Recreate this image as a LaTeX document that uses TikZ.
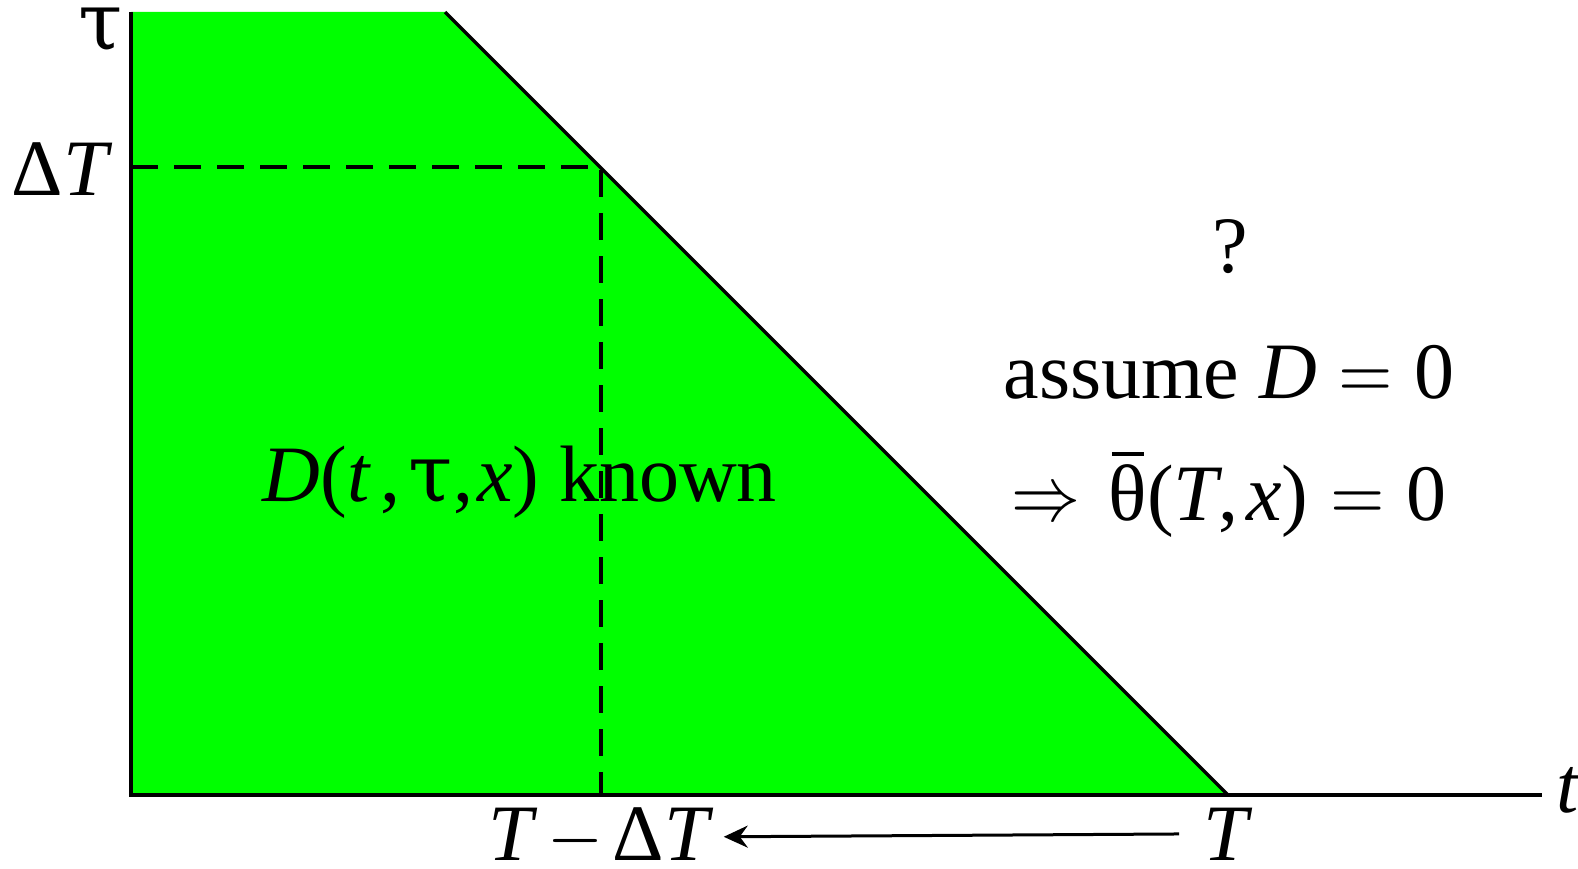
\documentclass[tikz,border=0pt]{standalone}
\usepackage{fontspec}
\setmainfont{Liberation Serif}
\newfontfamily\grk{DejaVu Serif}
\usetikzlibrary{arrows.meta}
\newcommand{\barth}{\setbox0\hbox{θ}\rlap{\hbox to\wd0{\hss\raisebox{0.8em}{\rule{0.85\wd0}{0.05em}}\hss}}\box0}
\newcommand{\mtau}{{\grk τ}}
\newcommand{\meq}{\scalebox{7}[7.8]{\normalsize$=$}}
\newcommand{\mminus}{\scalebox{7.2}[7.8]{\normalsize$-$}}
\newcommand{\mimpl}{\scalebox{6.9}[7.8]{\normalsize$\Rightarrow$}}
\begin{document}
\begin{tikzpicture}[x=1pt,y=-1pt,
  lbl/.style={inner sep=0pt, anchor=base, font=\fontsize{80}{92}\selectfont},
  axis/.style={line width=3.5pt},
  guide/.style={line width=3.5pt, dash pattern=on 27pt off 16pt},
  arr/.style={line width=3pt, -{Stealth[length=24pt,width=22pt,inset=8pt]}}]
\useasboundingbox (0,0) rectangle (1578,869);
\coordinate (O) at (131,795);
\coordinate (Y) at (131,12);
\coordinate (X) at (1542,795);
\coordinate (A) at (445,12);
\coordinate (B) at (1228,795);
\coordinate (C) at (601,167);
\coordinate (CY) at (131,167);
\coordinate (CX) at (601,795);
\fill[green] (O) -- (Y) -- (A) -- (B) -- cycle;
\draw[guide] (CY) -- (C) -- (CX);
\draw[axis] (Y) -- (O) -- (X);
\draw[axis] (A) -- (B);
\node[lbl] (tau) at (101,50) {\mtau};
\node[lbl] (dT) at (62,196) {Δ\textit{T}};
\node[lbl, anchor=base west] (tl) at (1556,812) {\textit{t}};
\node[lbl] (TmdT) at (601,860) {\textit{T}\hspace{0.12em}\mminus\hspace{0.12em}Δ\textit{T}};
\node[lbl] (Tl) at (1228,860) {\textit{T}};
\draw[arr, shorten <=24pt, shorten >=10pt] (Tl.west) -- (TmdT.east);
\node[lbl] (q) at (1230,272) {?};
\node[lbl] (as) at (1229,398) {assume \textit{D}\hspace{0.27em}\meq\hspace{0.27em}0};
\node[lbl] (im) at (1229,520) {\mimpl\hspace{0.35em}\barth(\textit{T},\hspace{0.1em}\textit{x})\hspace{0.27em}\meq\hspace{0.27em}0};
\node[lbl] (kn) at (520,501) {\textit{D}(\textit{t}\hspace{0.12em},\hspace{0.1em}\mtau,\hspace{0.05em}\textit{x}) known};
\end{tikzpicture}
\end{document}
